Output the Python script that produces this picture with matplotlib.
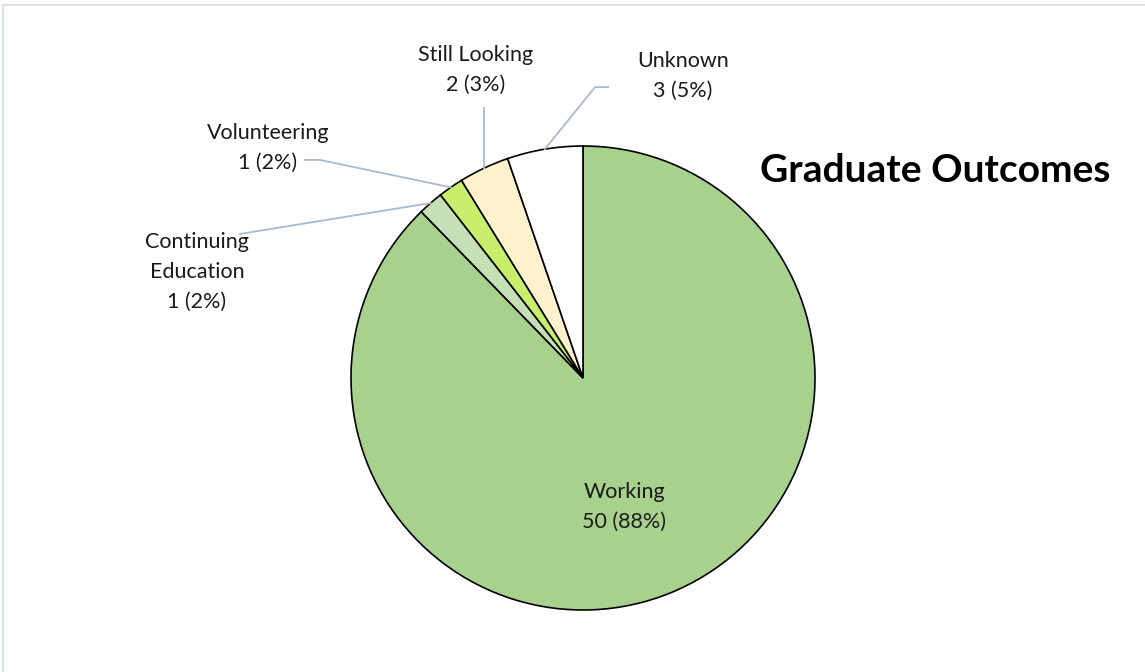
import matplotlib.pyplot as plt
from matplotlib.patches import Rectangle
import numpy as np

plt.rcParams["font.family"] = ["Lato", "DejaVu Sans"]

categories = ["Working", "Continuing\nEducation", "Volunteering", "Still Looking", "Unknown"]
counts = [50, 1, 1, 2, 3]
percents = [88, 2, 2, 3, 5]
colors = ["#A9D18E", "#C5E0B4", "#C8EE6C", "#FFF2CC", "#FFFFFF"]

# label layout (data units, pie radius = 1)
text_pos = [(0.177, -0.556), (-1.664, 0.457), (-1.358, 0.991), (-0.461, 1.328), (0.431, 1.302)]
leader_start = [None, [(-1.478, 0.621)], [(-1.198, 0.940), (-1.134, 0.940)],
                [(-0.427, 1.164)], [(0.108, 1.254), (0.052, 1.254)]]

W, H = 1145, 672
fig = plt.figure(figsize=(W / 100, H / 100), dpi=100)
fig.patches.append(Rectangle((3 / W, -0.1), 1.2, (H - 5) / H + 0.1, transform=fig.transFigure,
                             fill=False, edgecolor="#D6DCE4", linewidth=1.2))

cx, cy, r = 583, 378, 232
ax = fig.add_axes([(cx - r) / W, (H - cy - r) / H, 2 * r / W, 2 * r / H])
wedges, _ = ax.pie(counts, colors=colors, startangle=90, counterclock=False, radius=1,
                   wedgeprops=dict(edgecolor="black", linewidth=1.2))
ax.set_xlim(-1, 1)
ax.set_ylim(-1, 1)
ax.set_aspect("equal")
ax.axis("off")

for i, w in enumerate(wedges):
    label = f"{categories[i]}\n{counts[i]} ({percents[i]}%)"
    tx, ty = text_pos[i]
    ax.text(tx, ty, label, ha="center", va="center", fontsize=15.5, color="#1a1a1a",
            linespacing=1.6)
    if leader_start[i]:
        mid = np.deg2rad((w.theta1 + w.theta2) / 2)
        pts = leader_start[i] + [(np.cos(mid), np.sin(mid))]
        xs, ys = zip(*pts)
        ax.plot(xs, ys, color="#ADB9CA", linewidth=1.3, clip_on=False)

fig.text(935 / W, 1 - 170 / H, "Graduate Outcomes", ha="center", va="center",
         fontsize=28, fontweight="bold", color="black")

fig.savefig("out.png", dpi=100)
